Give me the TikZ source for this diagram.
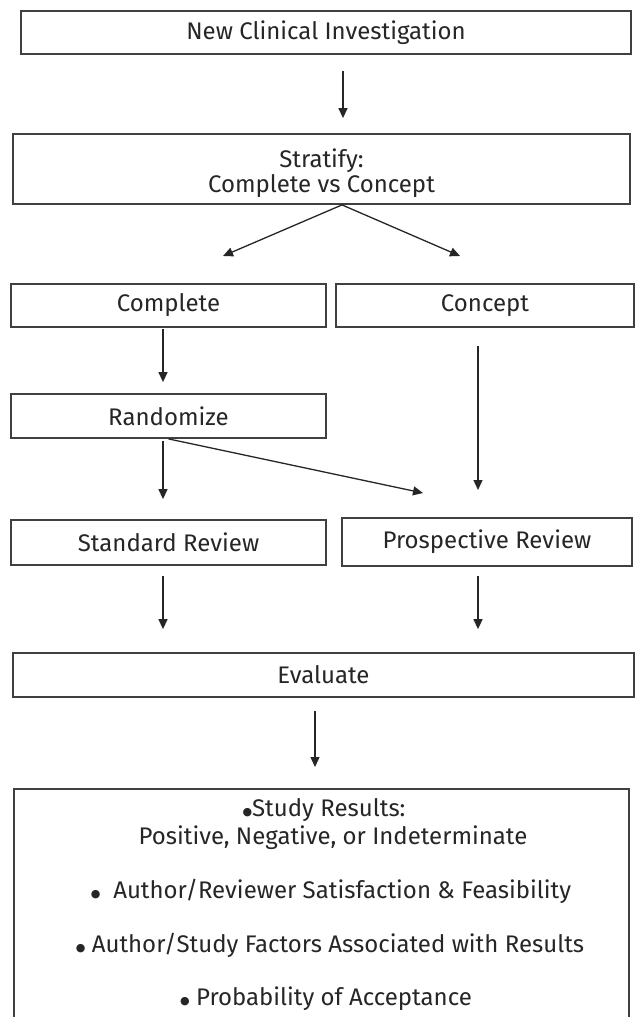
\documentclass[tikz,border=0pt]{standalone}
\usepackage{fontspec}
\setmainfont{Fira Sans}
\newfontfamily\dejavu{DejaVu Sans}
\newcommand\blt{\raisebox{1pt}{\dejavu\fontsize{11}{11}\selectfont ●}}
\usetikzlibrary{arrows.meta,calc}
\definecolor{ink}{HTML}{262626}
\definecolor{edge}{HTML}{404040}
\begin{document}
\begin{tikzpicture}[x=1pt,y=-1pt,
  box/.style={draw=edge, line width=1.8pt, fill=white, text=ink,
    font=\fontsize{24}{22}\selectfont, inner sep=0pt, align=center},
  arr/.style={draw=ink, line width=1.3pt, -{Triangle[length=10pt,width=9pt]}},
  txt/.style={text=ink, font=\fontsize{24}{24}\selectfont, inner sep=0pt, anchor=base}]
\clip (0,0) rectangle (636,1017);
\fill[white] (0,0) rectangle (636,1017);
% boxes
\node[box, minimum width=610pt, minimum height=43pt] (n1) at (326,32.5) {New Clinical Investigation};
\node[box, minimum width=617pt, minimum height=70pt, text height=46pt, text depth=0pt] (strat) at (321.5,169) {Stratify:\\Complete vs Concept};
\node[box, minimum width=315pt, minimum height=43pt] (compl) at (168.5,305.5) {Complete};
\node[box, minimum width=298pt, minimum height=43pt] (conc) at (485,305.5) {Concept};
\node[box, minimum width=315pt, minimum height=44pt] (rand) at (168.5,416) {Randomize};
\node[box, minimum width=315pt, minimum height=45pt] (std) at (168.5,542.5) {Standard Review};
\node[box, minimum width=290pt, minimum height=48pt] (prosp) at (487,542) {Prospective Review};
\node[box, minimum width=621pt, minimum height=44pt] (eval) at (323.5,675) {Evaluate};
\node[box, minimum width=615pt, minimum height=245pt, anchor=north] (res) at (321.5,788) {};
% result texts
\node[txt] (r1a) at (324,816) {\blt Study Results:};
\node[txt] (r1b) at (333,844) {Positive, Negative, or Indeterminate};
\node[txt] (r2) at (331,898) {\blt\ \ Author/Reviewer Satisfaction \& Feasibility};
\node[txt] (r3) at (330,952) {\blt\ Author/Study Factors Associated with Results};
\node[txt] (r4) at (326,1005) {\blt\ Probability of Acceptance};
% free arrow ends
\coordinate (cpt) at (223,256);
\coordinate (cct) at (460,256);
\coordinate (cend) at (478,490);
\coordinate (dend) at (423,493);
% connectors
\draw[arr, shorten <=16pt, shorten >=15pt] ([xshift=17pt]n1.south) -- ([xshift=17pt]n1.south |- strat.north);
\draw[arr] ([xshift=20.5pt]strat.south) -- (cpt);
\draw[arr] ([xshift=20.5pt]strat.south) -- (cct);
\draw[arr, shorten <=1pt, shorten >=11pt] ([xshift=-5.5pt]compl.south) -- ([xshift=-5.5pt]compl.south |- rand.north);
\draw[arr, shorten <=18pt] ([xshift=-7pt]conc.south) -- (cend);
\draw[arr, shorten <=2pt, shorten >=20pt] ([xshift=-5.5pt]rand.south) -- ([xshift=-5.5pt]rand.south |- std.north);
\draw[arr] (rand.south) -- (dend);
\draw[arr, shorten <=10pt, shorten >=23pt] ([xshift=-5.5pt]std.south) -- ([xshift=-5.5pt]std.south |- eval.north);
\draw[arr, shorten <=9pt, shorten >=23pt] ([xshift=-9pt]prosp.south) -- ([xshift=-9pt]prosp.south |- eval.north);
\draw[arr, shorten <=13pt, shorten >=21pt] ([xshift=-8.5pt]eval.south) -- ([xshift=-8.5pt]eval.south |- res.north);
\end{tikzpicture}
\end{document}
